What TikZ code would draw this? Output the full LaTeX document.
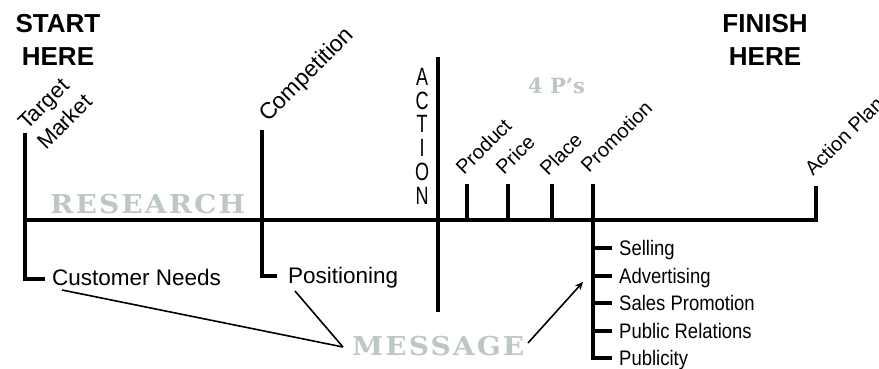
\documentclass[tikz,border=0pt]{standalone}
\usepackage{fontspec}
\setmainfont{Liberation Sans}
\newfontfamily\narrowfont[FakeStretch=0.88]{Liberation Sans}
\newfontfamily\slabfont[FakeStretch=1.08,LetterSpace=8]{DejaVu Serif}
\newfontfamily\slabtight{DejaVu Serif}
\usetikzlibrary{arrows.meta}
\definecolor{sage}{RGB}{188,200,192}

\begin{document}
\begin{tikzpicture}[x=1pt,y=-1pt,
  bar/.style={line width=3.4pt},
  thinline/.style={line width=1.6pt},
  heading/.style={font=\fontsize{26}{30}\selectfont\bfseries, inner sep=0},
  lbl/.style={font=\fontsize{22.5}{26}\selectfont, inner sep=0, anchor=base west},
  tilt/.style={font=\fontsize{20}{24}\selectfont, inner sep=0, anchor=base west, rotate=45},
  bigtilt/.style={tilt, font=\fontsize{22}{26}\selectfont},
  item/.style={font=\narrowfont\fontsize{21}{25}\selectfont, inner sep=0, anchor=base west},
  stage/.style={font=\slabfont\bfseries\fontsize{26}{30}\selectfont, text=sage, inner sep=0, anchor=base west},
  vletter/.style={font=\fontsize{25}{28}\selectfont, inner sep=0},
]
\useasboundingbox (0,0) rectangle (879,369);
\fill[white] (0,0) rectangle (879,369);
\clip (0,0) rectangle (879,369);

% headings
\node[heading] (start) at (58,24) {START};
\node[heading] (starthere) at (58,57) {HERE};
\node[heading] (finish) at (765,24) {FINISH};
\node[heading] (finishhere) at (765,57) {HERE};

% stage words
\node[stage] (research) at (50,213) {RESEARCH};
\node[stage] (message) at (352,355) {MESSAGE};
\node[stage, font=\slabtight\bfseries\fontsize{21}{24}\selectfont] (fourp) at (528,93) {4 P’s};

% timeline bars
\coordinate (tmtop) at (25,133);
\coordinate (tmbot) at (25,279);
\coordinate (cntick) at (45,279);
\coordinate (aptop) at (816,186);
\coordinate (apbot) at (816,220);
\coordinate (origin) at (25,220);
\draw[bar] (tmtop) -- (tmbot) -- (cntick);
\draw[bar] (aptop) -- (apbot) -- (origin);

\coordinate (comptop) at (262,130);
\coordinate (compbot) at (262,276);
\coordinate (postick) at (277,276);
\draw[bar] (comptop) -- (compbot) -- (postick);

\coordinate (acttop) at (438,57);
\coordinate (actbot) at (438,312);
\draw[bar] (acttop) -- (actbot);

\foreach \name/\x in {prod/467, price/508, place/552}{
  \coordinate (\name top) at (\x,184);
  \coordinate (\name bot) at (\x,220);
  \draw[bar] (\name top) -- (\name bot);
}

\coordinate (promtop) at (593,184);
\coordinate (prombot) at (593,358);
\coordinate (publtick) at (612,358);
\draw[bar] (promtop) -- (prombot) -- (publtick);
\foreach \name/\y in {sell/248, adv/276, sp/303, pr/331}{
  \coordinate (\name a) at (593,\y);
  \coordinate (\name b) at (612,\y);
  \draw[bar] (\name a) -- (\name b);
}

% tilted labels
\node[bigtilt] (target) at (27,131) {Target};
\node[bigtilt] (market) at (46,151) {Market};
\node[bigtilt, font=\fontsize{23}{27}\selectfont] (competition) at (268,123) {Competition};
\node[tilt] (product) at (464,176) {Product};
\node[tilt] (pricel) at (504,176) {Price};
\node[tilt] (placel) at (548,177) {Place};
\node[tilt] (promotion) at (589,174) {Promotion};
\node[tilt] (actionplan) at (813,177) {Action Plan};

% vertical ACTION
\foreach \l/\y [count=\i] in {A/77, C/101, T/124, I/148, O/172, N/196}{
  \node[vletter] (act\i) at (422,\y) {\scalebox{0.72}[1]{\l}};
}

% research results
\node[lbl] (cn) at (52,285) {Customer Needs};
\node[lbl] (pos) at (288,283) {Positioning};

% promotion mix
\node[item] (selling) at (619,255.5) {Selling};
\node[item] (advertising) at (619,283.5) {Advertising};
\node[item] (salesprom) at (619,310.5) {Sales Promotion};
\node[item] (pubrel) at (619,338.5) {Public Relations};
\node[item] (publicity) at (619,365.5) {Publicity};

% message connectors
\coordinate (msgin) at (343,347);
\coordinate (msgout) at (528,343);
\coordinate (arrtip) at (583,282);
\draw[thinline] ([xshift=10pt,yshift=-5pt]cn.base west) -- (msgin);
\draw[thinline] ([xshift=7pt,yshift=-8pt]pos.base west) -- (msgin);
\draw[thinline,-{Stealth[length=8pt,width=7pt]}] (msgout) -- (arrtip);
\end{tikzpicture}
\end{document}
